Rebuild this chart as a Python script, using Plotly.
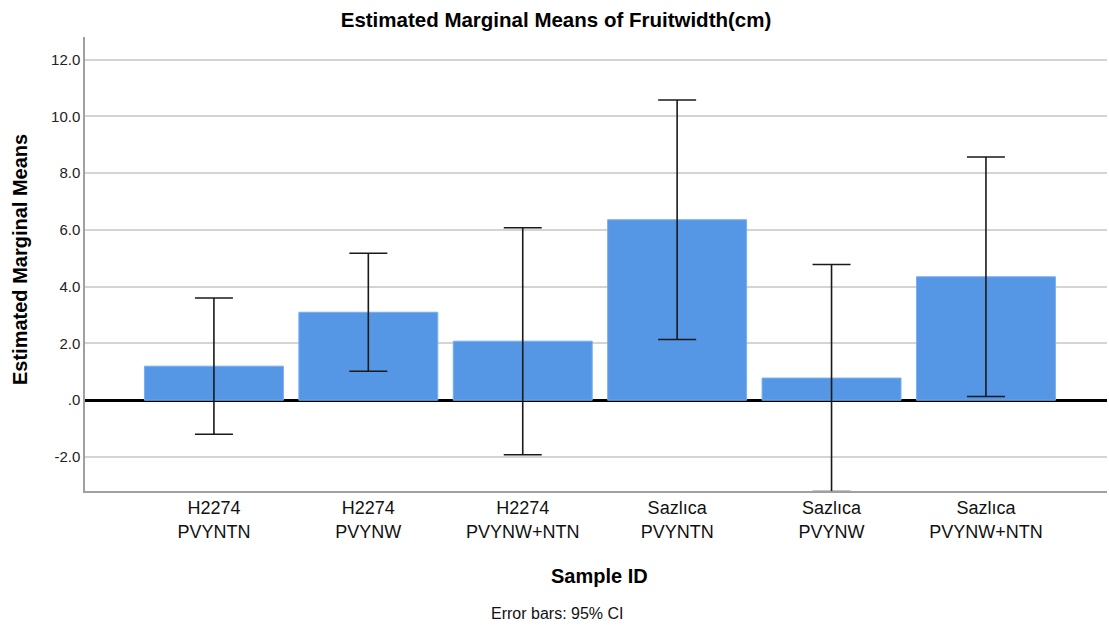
import plotly.graph_objects as go

categories = ["H2274<br>PVYNTN", "H2274<br>PVYNW", "H2274<br>PVYNW+NTN",
              "Sazlıca<br>PVYNTN", "Sazlıca<br>PVYNW", "Sazlıca<br>PVYNW+NTN"]
means = [1.20, 3.10, 2.08, 6.36, 0.78, 4.35]
ci_half = [2.40, 2.08, 4.00, 4.22, 4.00, 4.22]
tick_vals = [-2, 0, 2, 4, 6, 8, 10, 12]
tick_text = ["-2.0", ".0", "2.0", "4.0", "6.0", "8.0", "10.0", "12.0"]

W, H = 1109, 625
L, R, T, B = 85, 2, 37, 134

fig = go.Figure()
fig.add_trace(go.Bar(
    x=list(range(len(categories))), y=means, width=0.9,
    marker=dict(color="#5596e5", line=dict(color="#7aaef0", width=1)),
    error_y=dict(type="data", array=ci_half, visible=True,
                 color="#1a1a1a", thickness=1.6, width=19),
))

ph = H - T - B
pw = W - L - R

fig.update_layout(
    width=W, height=H, margin=dict(l=L, r=R, t=T, b=B),
    paper_bgcolor="white", plot_bgcolor="white",
    font=dict(family="Liberation Sans, Arial, sans-serif", color="#000"),
    showlegend=False,
    title=dict(text="<b>Estimated Marginal Means of Fruitwidth(cm)</b>",
               x=556 / W, xanchor="center", y=1 - 20 / H, yanchor="middle",
               font=dict(size=20.5, color="#000")),
    xaxis=dict(range=[-0.835, 5.784], tickvals=list(range(len(categories))),
               ticktext=categories, showgrid=False, zeroline=False,
               showline=True, linecolor="#a0a0a0", linewidth=1.5,
               ticks="", tickfont=dict(size=18, color="#111")),
    yaxis=dict(range=[-3.2, 12.8], tickvals=tick_vals, ticktext=tick_text,
               showgrid=True, gridcolor="#d4d4d4", gridwidth=1.5,
               zeroline=True, zerolinecolor="#000", zerolinewidth=3,
               showline=True, linecolor="#a0a0a0", linewidth=1.5,
               ticks="", ticklen=0, tickfont=dict(size=15, color="#222")),
)

fig.add_annotation(text="<b>Estimated Marginal Means</b>", xref="paper", yref="paper",
                   x=-(L - 20) / pw, y=(H - B - 260) / ph, textangle=-90,
                   xanchor="center", yanchor="middle", showarrow=False,
                   font=dict(size=20, color="#000"))
fig.add_annotation(text="<b>Sample ID</b>", xref="paper", yref="paper",
                   x=(599 - L) / pw, y=-(576 - (H - B)) / ph,
                   xanchor="center", yanchor="middle", showarrow=False,
                   font=dict(size=20, color="#000"))
fig.add_annotation(text="Error bars: 95% CI", xref="paper", yref="paper",
                   x=(557 - L) / pw, y=-(613 - (H - B)) / ph,
                   xanchor="center", yanchor="middle", showarrow=False,
                   font=dict(size=16, color="#111"))

fig.write_html("out.html")
